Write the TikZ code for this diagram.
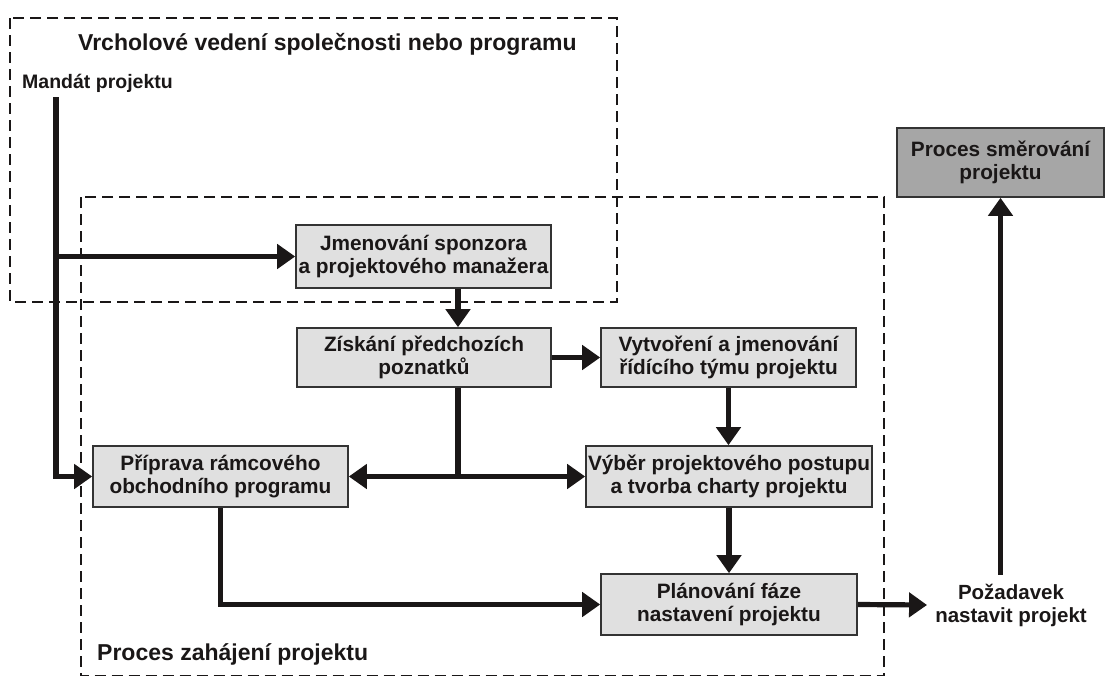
\documentclass[tikz,border=0pt]{standalone}
\usepackage{fontspec}
\setmainfont{Liberation Sans}
\usetikzlibrary{arrows.meta,calc}
\definecolor{ink}{HTML}{1A1717}
\definecolor{boxfill}{HTML}{E0E0E0}
\definecolor{boxdark}{HTML}{A6A6A6}
\definecolor{boxline}{HTML}{333333}
\begin{document}
\begin{tikzpicture}[x=1pt,y=-1pt,
  procbox/.style={draw=boxline, line width=1.6pt, fill=boxfill, align=center,
    inner sep=0pt, font=\bfseries\fontsize{20.8}{23}\selectfont, text=ink},
  frame/.style={draw=ink, line width=2.6pt, dash pattern=on 11pt off 6pt},
  flow/.style={draw=ink, line width=5.2pt},
  arr/.style={flow, -{Triangle[length=18pt,width=24pt]}},
  heading/.style={font=\bfseries\fontsize{23}{27}\selectfont, text=ink, inner sep=0pt},
  tag/.style={font=\bfseries\fontsize{19.5}{23}\selectfont, text=ink, inner sep=0pt}]
\useasboundingbox (0,0) rectangle (1105,675);
\fill[white] (0,0) rectangle (1105,675);

% dashed process frames
\draw[frame] (10,18) rectangle (617,302);
\draw[frame] (81,197) rectangle (884,676.5);

% frame labels
\node[heading, anchor=base west] (top) at (78,50) {Vrcholové vedení společnosti nebo programu};
\node[tag, anchor=base west] (mandat) at (22,88) {Mandát projektu};
\node[heading, anchor=base west] (zahaj) at (97,660) {Proces zahájení projektu};

% process steps
\node[procbox, minimum width=255pt, minimum height=63pt] (jmen) at (423.5,256.5)
  {Jmenování sponzora\\a projektového manažera};
\node[procbox, minimum width=254pt, minimum height=59pt] (zisk) at (424,357.5)
  {Získání předchozích\\poznatků};
\node[procbox, minimum width=255pt, minimum height=59pt] (vytv) at (728.5,357.5)
  {Vytvoření a jmenování\\řídícího týmu projektu};
\node[procbox, minimum width=255pt, minimum height=61pt] (pri) at (220.5,476.5)
  {Příprava rámcového\\obchodního programu};
\node[procbox, minimum width=286pt, minimum height=61pt] (vyb) at (729,476.5)
  {Výběr projektového postupu\\a tvorba charty projektu};
\node[procbox, minimum width=256pt, minimum height=61pt] (plan) at (729,604.5)
  {Plánování fáze\\nastavení projektu};
\node[procbox, fill=boxdark, minimum width=207pt, minimum height=69pt] (smer) at (1000.5,162.5)
  {Proces směrování\\projektu};
\node[font=\bfseries\fontsize{20.5}{23}\selectfont, text=ink, align=center,
  inner xsep=8pt, inner ysep=9pt] (poz) at (1011,605) {Požadavek\\nastavit projekt};

% connectors
\coordinate (m0) at (56,97);
\coordinate (split) at (458,476.5);
\draw[arr] (m0) |- (pri.west);
\draw[arr] (m0 |- jmen.west) -- (jmen.west);
\draw[arr] (jmen.south -| split) -- (zisk.north -| split);
\draw[flow] (zisk.south -| split) -- (split);
\draw[arr] (split) -- (pri.east);
\draw[arr] (split) -- (vyb.west);
\draw[arr] (zisk.east) -- (vytv.west);
\draw[arr] (vytv.south) -- (vytv.south |- vyb.north);
\draw[arr] (vyb.south) -- (plan.north);
\draw[arr] (pri.south) |- (plan.west);
\draw[arr] (plan.east) -- (poz.west);
\draw[arr] (smer.south |- poz.north) -- (smer.south);
\end{tikzpicture}
\end{document}
